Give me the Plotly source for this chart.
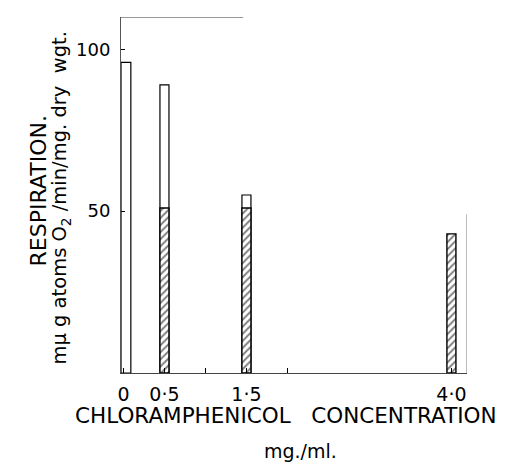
import plotly.graph_objects as go

# Data
conc = [0, 0.5, 1.5, 4.0]
tick_labels = ["0", "0·5", "1·5", "4·0"]
open_vals = [96, 89, 55, None]      # open (white) bars
hatched_vals = [None, 51, 51, 43]   # hatched bars

FONT = "DejaVu Sans, Arial, sans-serif"
bar_width = [0.12, 0.11, 0.11, 0.11]
bar_offset = [-0.03, -0.055, -0.055, -0.055]

fig = go.Figure()
fig.add_trace(go.Bar(
    x=conc, y=open_vals, width=bar_width, offset=bar_offset,
    marker=dict(color="white", line=dict(color="black", width=1.2)),
    showlegend=False,
))
fig.add_trace(go.Bar(
    x=conc, y=hatched_vals, width=bar_width, offset=bar_offset,
    marker=dict(color="white", line=dict(color="black", width=1.4),
                pattern=dict(shape="/", fgcolor="black", bgcolor="white",
                             size=5, solidity=0.4)),
    showlegend=False,
))

fig.update_layout(
    width=499, height=454,
    margin=dict(l=113, r=40, t=9, b=89),
    paper_bgcolor="white", plot_bgcolor="white",
    barmode="overlay",
    font=dict(family=FONT, color="black"),
    xaxis=dict(
        range=[-0.03, 4.19],
        tickvals=[0, 0.5, 1, 1.5, 2, 4.0],
        ticktext=[tick_labels[0], tick_labels[1], "", tick_labels[2], "", tick_labels[3]],
        ticks="inside", ticklen=5, tickcolor="black", tickwidth=1,
        showline=True, linecolor="#444", linewidth=1,
        showgrid=False, zeroline=False,
        tickfont=dict(size=19, family=FONT),
        ticklabelstandoff=4,
    ),
    yaxis=dict(
        range=[0, 110],
        tickvals=[50, 100],
        ticks="inside", ticklen=4, tickcolor="black",
        showline=True, linecolor="#555", linewidth=1,
        showgrid=False, zeroline=False,
        tickfont=dict(size=18, family=FONT),
        ticklabelstandoff=6,
    ),
    shapes=[
        dict(type="line", xref="x", yref="y", x0=-0.03, x1=1.46, y0=110, y1=110,
             line=dict(color="#333", width=1)),
        dict(type="line", xref="x", yref="y", x0=4.19, x1=4.19, y0=0, y1=49,
             line=dict(color="#777", width=1)),
    ],
    annotations=[
        dict(text="RESPIRATION.", xref="paper", yref="paper", x=0, y=0.51,
             xshift=-83, textangle=-90, showarrow=False, xanchor="center", yanchor="middle",
             font=dict(size=22, family=FONT)),
        dict(text="mμ g atoms O<sub>2</sub> /min/mg. dry  wgt.", xref="paper", yref="paper",
             x=0, y=0.49, xshift=-60, textangle=-90, showarrow=False,
             xanchor="center", yanchor="middle", font=dict(size=19.5, family=FONT)),
        dict(text="CHLORAMPHENICOL\u00a0\u00a0\u00a0CONCENTRATION", xref="paper", yref="paper",
             x=0.477, y=-0.12, showarrow=False, xanchor="center", yanchor="middle",
             font=dict(size=21.5, family=FONT)),
        dict(text="mg./ml.", xref="paper", yref="paper", x=0.52, y=-0.219,
             showarrow=False, xanchor="center", yanchor="middle",
             font=dict(size=19, family=FONT)),
    ],
)

fig.write_html("out.html")
